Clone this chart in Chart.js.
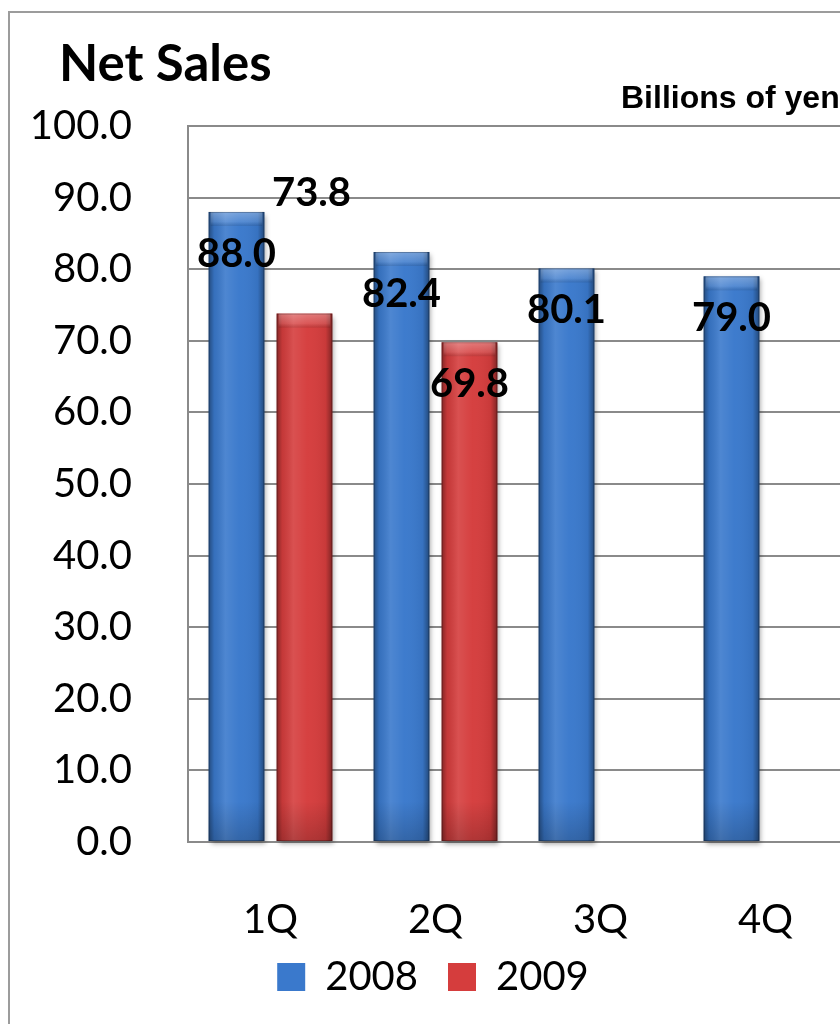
<!DOCTYPE html>
<html>
<head>
<meta charset="utf-8">
<title>Net Sales</title>
<script src="https://cdn.jsdelivr.net/npm/chart.js@4/dist/chart.umd.min.js"></script>
<style>
  html, body { margin: 0; padding: 0; background: #fff; overflow: hidden; width: 840px; height: 1024px; }
  #wrap { position: relative; width: 840px; height: 1024px; overflow: hidden; }
  #frame { position: absolute; left: 8px; top: 11px; width: 900px; height: 1100px;
           border-left: 2px solid #9c9c9c; border-top: 2px solid #9c9c9c; pointer-events: none; }
  canvas { position: absolute; left: 0; top: 0; }
</style>
</head>
<body>
<div id="wrap">
  <canvas id="chart" width="860" height="1024"></canvas>
  <div id="frame"></div>
</div>
<script>
// Quarterly net sales, billions of yen
const quarters = ['1Q', '2Q', '3Q', '4Q'];
const sales2008 = [88.0, 82.4, 80.1, 79.0];
const sales2009 = [73.8, 69.8, null, null];
const seriesNames = ['2008', '2009'];
const yMin = 0, yMax = 100, yStep = 10;

const BLUE = '#3a79cc';
const RED = '#d53d3d';

// Glossy cylinder-like shading over each bar, then the value labels
const barGloss = {
  id: 'barGloss',
  beforeDatasetDraw(chart) {
    const ctx = chart.ctx;
    ctx.save();
    ctx.shadowColor = 'rgba(0,0,0,0.35)';
    ctx.shadowBlur = 5;
    ctx.shadowOffsetX = 2;
    ctx.shadowOffsetY = 3;
  },
  afterDatasetDraw(chart) {
    chart.ctx.restore();
  },
  afterDatasetsDraw(chart, args, opts) {
    const ctx = chart.ctx;
    chart.data.datasets.forEach((ds, di) => {
      const meta = chart.getDatasetMeta(di);
      meta.data.forEach((el, i) => {
        if (ds.data[i] == null) return;
        const p = el.getProps(['x', 'y', 'base', 'width'], true);
        const l = p.x - p.width / 2, h = p.base - p.y;
        ctx.save();
        // side shading
        const g = ctx.createLinearGradient(l, 0, l + p.width, 0);
        g.addColorStop(0, 'rgba(0,0,0,0.38)');
        g.addColorStop(0.1, 'rgba(0,0,0,0.08)');
        g.addColorStop(0.3, 'rgba(255,255,255,0.10)');
        g.addColorStop(0.55, 'rgba(255,255,255,0.02)');
        g.addColorStop(0.88, 'rgba(0,0,0,0.06)');
        g.addColorStop(1, 'rgba(0,0,0,0.40)');
        ctx.fillStyle = g;
        ctx.fillRect(l, p.y, p.width, h);
        // bottom darkening
        const gb = ctx.createLinearGradient(0, p.base - 40, 0, p.base);
        gb.addColorStop(0, 'rgba(0,0,0,0)');
        gb.addColorStop(1, 'rgba(0,0,0,0.18)');
        ctx.fillStyle = gb;
        ctx.fillRect(l, p.base - 40, p.width, 40);
        // top cap highlight
        const capH = 14;
        const gt = ctx.createLinearGradient(0, p.y, 0, p.y + capH);
        gt.addColorStop(0, 'rgba(255,255,255,0.30)');
        gt.addColorStop(0.7, 'rgba(255,255,255,0.12)');
        gt.addColorStop(1, 'rgba(0,0,0,0.10)');
        ctx.fillStyle = gt;
        ctx.fillRect(l + 2, p.y, p.width - 4, capH);
        // outline
        ctx.strokeStyle = 'rgba(0,0,0,0.25)';
        ctx.lineWidth = 1;
        ctx.strokeRect(l + 0.5, p.y + 0.5, p.width - 1, h - 1);
        ctx.restore();
      });
    });
    // value labels
    ctx.save();
    ctx.font = opts.font;
    ctx.fillStyle = '#000';
    ctx.textAlign = 'center';
    ctx.textBaseline = 'middle';
    chart.data.datasets.forEach((ds, di) => {
      const meta = chart.getDatasetMeta(di);
      meta.data.forEach((el, i) => {
        const v = ds.data[i];
        if (v == null) return;
        const shift = opts.shift[di + ':' + i] || [0, 0];
        ctx.fillText(v.toFixed(1), el.x + shift[0], el.y + opts.inset + shift[1]);
      });
    });
    ctx.restore();
  }
};

// Heading and unit note
const headings = {
  id: 'headings',
  afterDraw(chart) {
    const ctx = chart.ctx;
    ctx.save();
    ctx.fillStyle = '#000';
    ctx.textBaseline = 'alphabetic';
    ctx.textAlign = 'left';
    ctx.font = 'bold 51px Lato';
    ctx.fillText('Net Sales', 59, 81);
    ctx.font = 'bold 32px "Liberation Sans"';
    ctx.fillText('Billions of yen', 621, 108);
    ctx.restore();
  }
};

// Nudge the legend so it sits snugly under the category labels
const legendNudge = {
  id: 'legendNudge',
  afterLayout(chart, args, opts) {
    const lg = chart.legend;
    if (!lg) return;
    lg.top -= opts.up;
    lg.bottom -= opts.up;
    lg.left += opts.right;
    lg.right += opts.right;
  }
};

new Chart(document.getElementById('chart'), {
  type: 'bar',
  data: {
    labels: quarters,
    datasets: [
      { label: seriesNames[0], data: sales2008, backgroundColor: BLUE, clip: false },
      { label: seriesNames[1], data: sales2009, backgroundColor: RED, clip: false }
    ]
  },
  options: {
    responsive: false,
    animation: false,
    devicePixelRatio: 1,
    layout: { padding: { top: 126, right: 12, bottom: 0, left: 0 } },
    datasets: { bar: { categoryPercentage: 0.824, barPercentage: 0.82 } },
    scales: {
      x: {
        afterFit(scale) { scale.height = 102; },
        grid: { display: false, drawTicks: false },
        border: { display: true, color: '#8a8a8a', width: 2 },
        ticks: { color: '#000', font: { family: 'Lato', size: 40 }, padding: 54 }
      },
      y: {
        min: yMin, max: yMax,
        afterFit(scale) { scale.width = 188; },
        grid: { color: '#8a8a8a', lineWidth: 2, drawTicks: false },
        border: { display: true, color: '#8a8a8a', width: 2 },
        ticks: {
          stepSize: yStep, color: '#000', padding: 56,
          font: { family: 'Lato', size: 40 },
          callback: (v) => Number(v).toFixed(1)
        }
      }
    },
    plugins: {
      legend: {
        position: 'bottom',
        labels: {
          color: '#000', boxWidth: 28, boxHeight: 28, padding: 30,
          font: { family: 'Lato', size: 40 }
        }
      },
      legendNudge: { up: 17, right: 9 },
      tooltip: { enabled: false },
      barGloss: {
        font: 'bold 40px Lato',
        inset: 42,
        shift: { '1:0': [7, -162] }
      }
    }
  },
  plugins: [barGloss, headings, legendNudge]
});
</script>
</body>
</html>
